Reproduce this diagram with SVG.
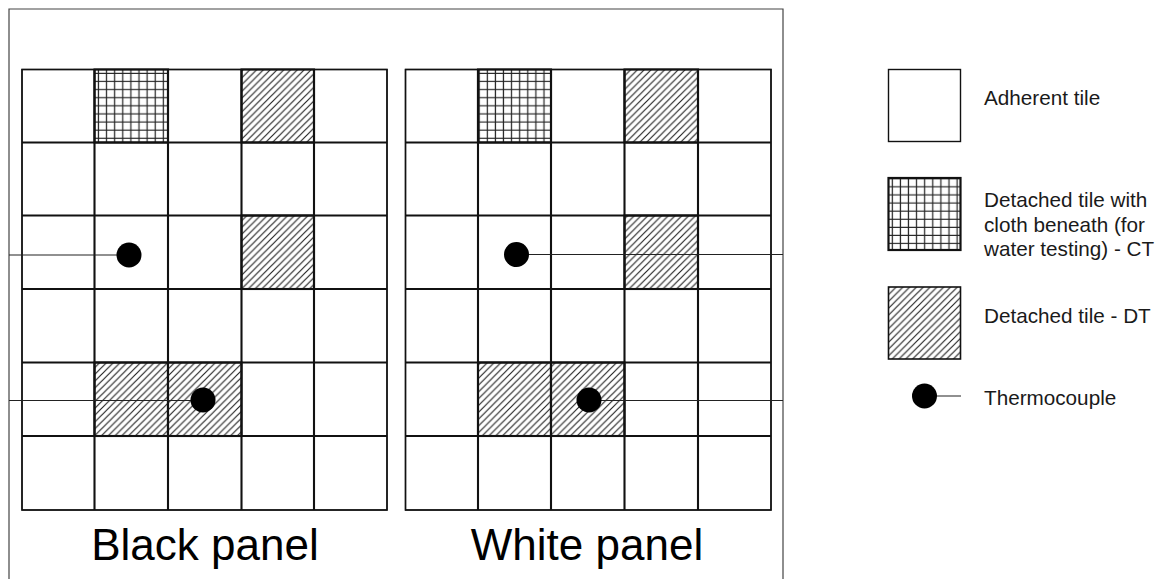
<svg xmlns="http://www.w3.org/2000/svg" width="1169" height="579" viewBox="0 0 1169 579">
<style>
.bg{fill:#fff}
.frame{fill:none;stroke:#444;stroke-width:1.2}
.border{fill:none;stroke:#111;stroke-width:1.4}
.inner{stroke:#111;stroke-width:2.1;fill:none}
.dt{fill:url(#diag);stroke:#111;stroke-width:2.1}
.ct{fill:url(#cross);stroke:#111;stroke-width:2.1}
.tile{fill:#fff;stroke:#111;stroke-width:1.4}
.wire{stroke:#222;stroke-width:1.1;fill:none}
.tc{fill:#000}
.lbl{font-family:"Liberation Sans",Arial,sans-serif;font-size:44px;fill:#000;text-anchor:middle}
.leg{font-family:"Liberation Sans",Arial,sans-serif;font-size:20.7px;fill:#1a1a1a}
</style>
<defs>
<pattern id="diag" patternUnits="userSpaceOnUse" width="6.8" height="6.8">
<rect width="6.8" height="6.8" fill="#fff"/>
<path d="M0,6.8 L6.8,0 M-1,1 L1,-1 M5.8,7.8 L7.8,5.8" stroke="#222" stroke-width="1.15"/>
</pattern>
<pattern id="cross" patternUnits="userSpaceOnUse" x="94.5" y="69.5" width="8.1" height="8.1">
<rect width="8.1" height="8.1" fill="#fff"/>
<path d="M4,0 V8.1 M0,4 H8.1" stroke="#222" stroke-width="1.2"/>
</pattern>
</defs>
<rect class="bg" x="0" y="0" width="1169" height="579"/>
<path id="frame" class="frame" d="M9,590 V9 H783 V590"/>

<g id="black-panel">
<rect class="tile" x="22" y="69.5" width="365" height="440.5"/>
<rect class="ct" x="94.5" y="69.5" width="73.5" height="73"/>
<rect class="dt" x="241.5" y="69.5" width="72.5" height="73"/>
<rect class="dt" x="241.5" y="215.5" width="72.5" height="73.5"/>
<rect class="dt" x="94.5" y="362.5" width="73.5" height="73.5"/>
<rect class="dt" x="168" y="362.5" width="73.5" height="73.5"/>
<path class="inner" d="M94.5,69.5 V510 M168,69.5 V510 M241.5,69.5 V510 M314,69.5 V510 M22,142.5 H387 M22,215.5 H387 M22,289 H387 M22,362.5 H387 M22,436 H387"/>
<rect class="border" x="22" y="69.5" width="365" height="440.5"/>
<text class="lbl" x="205" y="560">Black panel</text>
</g>

<g id="white-panel">
<rect class="tile" x="405.5" y="69.5" width="365.5" height="440.5"/>
<rect class="ct" x="478" y="69.5" width="73" height="73"/>
<rect class="dt" x="624.5" y="69.5" width="73.5" height="73"/>
<rect class="dt" x="624.5" y="215.5" width="73.5" height="73.5"/>
<rect class="dt" x="478" y="362.5" width="73" height="73.5"/>
<rect class="dt" x="551" y="362.5" width="73.5" height="73.5"/>
<path class="inner" d="M478,69.5 V510 M551,69.5 V510 M624.5,69.5 V510 M698,69.5 V510 M405.5,142.5 H771 M405.5,215.5 H771 M405.5,289 H771 M405.5,362.5 H771 M405.5,436 H771"/>
<rect class="border" x="405.5" y="69.5" width="365.5" height="440.5"/>
<text class="lbl" x="587" y="560">White panel</text>
</g>

<g id="connectors">
<path class="wire" d="M9,255 H129"/>
<path class="wire" d="M9,400.5 H203"/>
<path class="wire" d="M516.5,254.5 H783"/>
<path class="wire" d="M589,400.5 H783"/>
<path class="wire" d="M924.5,396 H961"/>
</g>

<g id="thermocouples">
<circle class="tc" cx="129" cy="255" r="12.5"/>
<circle class="tc" cx="203" cy="400" r="12.5"/>
<circle class="tc" cx="516.5" cy="254.5" r="12.5"/>
<circle class="tc" cx="589" cy="400" r="12.5"/>
</g>

<g id="legend-adherent">
<rect class="tile" x="888.5" y="69.5" width="72" height="72"/>
<text class="leg" x="984" y="105">Adherent tile</text>
</g>
<g id="legend-ct">
<rect class="ct" x="888.5" y="178" width="72" height="72" style="stroke-width:2.2"/>
<text class="leg" x="984" y="207">Detached tile with</text>
<text class="leg" x="984" y="231.5">cloth beneath (for</text>
<text class="leg" x="984" y="256">water testing) - CT</text>
</g>
<g id="legend-dt">
<rect class="dt" x="888.5" y="287" width="72" height="72" style="stroke-width:1.6"/>
<text class="leg" x="984" y="323">Detached tile - DT</text>
</g>
<g id="legend-tc">
<circle class="tc" cx="924.5" cy="396" r="12.5"/>
<text class="leg" x="984" y="405">Thermocouple</text>
</g>
</svg>
